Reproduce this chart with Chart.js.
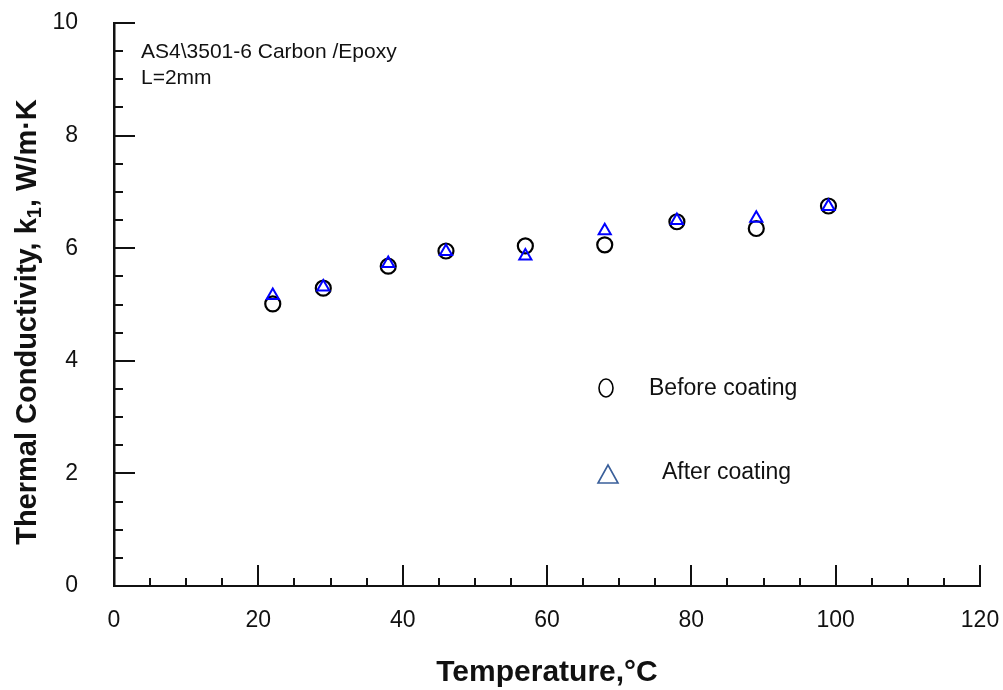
<!DOCTYPE html>
<html>
<head>
<meta charset="utf-8">
<script src="https://cdn.jsdelivr.net/npm/chart.js@4/dist/chart.umd.min.js"></script>
<style>
  html, body { margin: 0; padding: 0; background: #fff; }
  #wrap { width: 1003px; height: 690px; }
</style>
</head>
<body>
<div id="wrap"><canvas id="chart" width="1003" height="690"></canvas></div>
<script>
const TEMPS = [22, 29, 38, 46, 57, 68, 78, 89, 99];
const BEFORE = [5.01, 5.29, 5.68, 5.95, 6.04, 6.06, 6.47, 6.35, 6.75];
const AFTER = [5.16, 5.31, 5.73, 5.94, 5.86, 6.31, 6.49, 6.53, 6.74];

const X_TICKS = [0, 20, 40, 60, 80, 100, 120];
const Y_TICKS = [0, 2, 4, 6, 8, 10];
const X_MINOR = 5;
const Y_MINOR = 0.5;

const FONT = "'Liberation Sans', Arial, sans-serif";
const INK = "#111";

// inward tick marks, drawn from the scales
const tickMarks = {
  id: "tickMarks",
  afterDraw(chart) {
    const { ctx, scales: { x, y }, chartArea: a } = chart;
    ctx.save();
    ctx.strokeStyle = INK;
    ctx.lineWidth = 2;
    ctx.beginPath();
    for (let v = x.min; v <= x.max + 1e-9; v += X_MINOR) {
      const px = Math.round(x.getPixelForValue(v));
      const len = X_TICKS.includes(v) ? 21 : 8;
      ctx.moveTo(px, a.bottom);
      ctx.lineTo(px, a.bottom - len);
    }
    for (let v = y.min; v <= y.max + 1e-9; v += Y_MINOR) {
      const py = Math.round(y.getPixelForValue(v));
      const len = Y_TICKS.includes(Math.round(v * 10) / 10) ? 21 : 9;
      ctx.moveTo(a.left, py);
      ctx.lineTo(a.left + len, py);
    }
    ctx.stroke();
    ctx.restore();
  }
};

// axis titles, note and hand-made legend
const labels = {
  id: "labels",
  afterDraw(chart) {
    const { ctx } = chart;
    ctx.save();
    ctx.fillStyle = INK;

    // note
    ctx.font = "21px " + FONT;
    ctx.textAlign = "left";
    ctx.textBaseline = "middle";
    ctx.fillText("AS4\\3501-6 Carbon /Epoxy", 141, 52);
    ctx.fillText("L=2mm", 141, 78);

    // x title
    ctx.font = "bold 30px " + FONT;
    ctx.textAlign = "center";
    ctx.fillText("Temperature,\u00B0C", 547, 673);

    // y title with subscript
    ctx.translate(28, 322);
    ctx.rotate(-Math.PI / 2);
    const big = "bold 29px " + FONT, small = "bold 20px " + FONT;
    const parts = [
      ["Thermal Conductivity, k", big, 0],
      ["1", small, 7],
      [", W/m\u00B7K", big, 0]
    ];
    let total = 0;
    parts.forEach(p => { ctx.font = p[1]; total += ctx.measureText(p[0]).width; });
    let cx = -total / 2;
    ctx.textAlign = "left";
    parts.forEach(p => {
      ctx.font = p[1];
      ctx.fillText(p[0], cx, p[2]);
      cx += ctx.measureText(p[0]).width;
    });
    ctx.setTransform(1, 0, 0, 1, 0, 0);

    // legend
    ctx.font = "23px " + FONT;
    ctx.textBaseline = "middle";
    ctx.fillText("Before coating", 649, 389);
    ctx.fillText("After coating", 662, 473);
    ctx.strokeStyle = "#000";
    ctx.lineWidth = 1.6;
    ctx.beginPath();
    ctx.ellipse(606, 388, 7, 9, 0, 0, Math.PI * 2);
    ctx.stroke();
    ctx.strokeStyle = "#3a5f9a";
    ctx.beginPath();
    ctx.moveTo(608, 465);
    ctx.lineTo(598, 483);
    ctx.lineTo(618, 483);
    ctx.closePath();
    ctx.stroke();
    ctx.restore();
  }
};

new Chart(document.getElementById("chart"), {
  type: "scatter",
  data: {
    datasets: [
      {
        label: "After coating",
        data: TEMPS.map((t, i) => ({ x: t, y: AFTER[i] })),
        pointStyle: "triangle",
        pointRadius: 7,
        pointBorderWidth: 2,
        borderColor: "#0000ff",
        backgroundColor: "rgba(0,0,0,0)",
        order: 0
      },
      {
        label: "Before coating",
        data: TEMPS.map((t, i) => ({ x: t, y: BEFORE[i] })),
        pointStyle: "circle",
        pointRadius: 7.5,
        pointBorderWidth: 2.2,
        borderColor: "#000",
        backgroundColor: "rgba(0,0,0,0)",
        order: 1
      }
    ]
  },
  options: {
    responsive: false,
    animation: false,
    layout: { padding: { left: 0, top: 23, right: 23, bottom: 0 } },
    plugins: { legend: { display: false }, tooltip: { enabled: false } },
    scales: {
      x: {
        type: "linear",
        min: 0,
        max: 120,
        afterFit: s => { s.height = 104; s.paddingLeft = 0; s.paddingRight = 0; },
        afterBuildTicks: s => { s.ticks = X_TICKS.map(v => ({ value: v })); },
        grid: { display: false, drawTicks: false },
        border: { display: true, color: INK, width: 2 },
        ticks: { color: INK, font: { family: FONT, size: 23 }, padding: 21, maxRotation: 0 }
      },
      y: {
        type: "linear",
        min: 0,
        max: 10,
        afterFit: s => { s.width = 114; s.paddingTop = 0; s.paddingBottom = 0; },
        afterBuildTicks: s => { s.ticks = Y_TICKS.map(v => ({ value: v })); },
        grid: { display: false, drawTicks: false },
        border: { display: true, color: INK, width: 2.5 },
        ticks: { color: INK, font: { family: FONT, size: 23 }, padding: 36 }
      }
    }
  },
  plugins: [tickMarks, labels]
});
</script>
</body>
</html>
